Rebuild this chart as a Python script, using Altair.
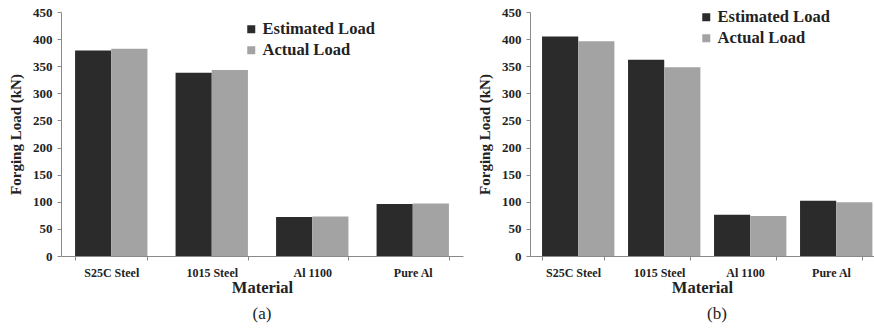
import altair as alt
import pandas as pd

materials = ["S25C Steel", "1015 Steel", "Al 1100", "Pure Al"]
series = ["Estimated Load", "Actual Load"]

a_estimated = [379, 338, 72, 96]
a_actual = [382, 343, 73, 97]
b_estimated = [405, 362, 76, 102]
b_actual = [396, 348, 74, 99]

y_ticks = list(range(0, 451, 50))
FONT = "Liberation Serif"
DARK = "#2b2b2b"
HATCH = "#a3a3a3"


def make_df(est, act):
    rows = []
    for m, e, a in zip(materials, est, act):
        rows.append({"Material": m, "Series": series[0], "Load": e})
        rows.append({"Material": m, "Series": series[1], "Load": a})
    return pd.DataFrame(rows)


def panel(est, act, caption, width, legx, legy, cap_dx):
    df = make_df(est, act)
    return alt.Chart(df).mark_bar().encode(
        x=alt.X("Material:N", sort=materials,
                scale=alt.Scale(paddingInner=0.28, paddingOuter=0.14),
                axis=alt.Axis(title="Material", labelAngle=0, tickBand="extent",
                              labelFont=FONT, labelFontWeight="bold", labelFontSize=12,
                              titleFont=FONT, titleFontWeight="bold", titleFontSize=16.5,
                              labelPadding=7, titlePadding=1, tickSize=4)),
        xOffset=alt.XOffset("Series:N", sort=series, scale=alt.Scale(paddingInner=0, paddingOuter=0)),
        y=alt.Y("Load:Q", scale=alt.Scale(domain=[0, 450], nice=False),
                axis=alt.Axis(title="Forging Load (kN)", values=y_ticks, grid=False,
                              labelFont=FONT, labelFontWeight="bold", labelFontSize=13,
                              titleFont=FONT, titleFontWeight="bold", titleFontSize=15,
                              labelPadding=5, titlePadding=9, tickSize=4)),
        color=alt.Color("Series:N", sort=series,
                        scale=alt.Scale(domain=series, range=[DARK, HATCH]),
                        legend=alt.Legend(title=None, orient="none", legendX=legx, legendY=legy,
                                          symbolType="square", symbolSize=64, symbolStrokeWidth=0,
                                          labelFont=FONT, labelFontWeight="bold", labelFontSize=16.5,
                                          labelColor="#222", labelOffset=3, rowPadding=4, padding=0)),
    ).properties(
        width=width, height=244,
        title=alt.TitleParams(caption, orient="bottom", font=FONT, fontSize=17,
                              fontWeight="normal", color="#222", offset=10, dx=cap_dx),
    )


pa = panel(a_estimated, a_actual, "(a)", 402, 182, 9, 0)
pb = panel(b_estimated, b_actual, "(b)", 344, 168, -3, 15)

chart = alt.hconcat(pa, pb, spacing=14).resolve_scale(color="independent").resolve_legend(
    color="independent"
).properties(padding={"left": 8, "top": 6, "right": 0, "bottom": 4}).configure_view(
    stroke=None
).configure_axis(
    domainColor="#8a8a8a", tickColor="#8a8a8a", labelColor="#222", titleColor="#222"
)

chart.save("out.html", embed_options={"renderer": "svg", "actions": False})
